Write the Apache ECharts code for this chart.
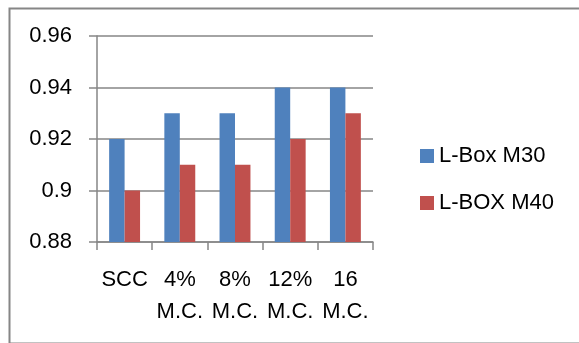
<!DOCTYPE html>
<html>
<head>
<meta charset="utf-8">
<script src="https://cdn.jsdelivr.net/npm/echarts@6/dist/echarts.min.js"></script>
<style>
  html, body { margin: 0; padding: 0; background: #fff; }
  #chart { width: 579px; height: 343px; }
</style>
</head>
<body>
<div id="chart"></div>
<script>
// Category labels (two-line) and values for each series
const categories = ['SCC\n', '4%\nM.C.', '8%\nM.C.', '12%\nM.C.', '16\nM.C.'];
const seriesNames = ['L-Box M30', 'L-BOX M40'];
const lboxM30 = [0.92, 0.93, 0.93, 0.94, 0.94];
const lboxM40 = [0.90, 0.91, 0.91, 0.92, 0.93];

const FONT = 'Liberation Sans';
const GRAY = '#868686';

const chart = echarts.init(document.getElementById('chart'), null, { renderer: 'canvas' });

chart.setOption({
  animation: false,
  backgroundColor: '#ffffff',
  textStyle: { fontFamily: FONT, color: '#000' },
  graphic: [{
    type: 'rect',
    left: 7, top: 6,
    shape: { width: 600, height: 335 },
    style: { fill: 'none', stroke: GRAY, lineWidth: 2 },
    silent: true
  }],
  grid: { left: 97, top: 36, right: 206, bottom: 101, containLabel: false },
  legend: {
    orient: 'vertical',
    left: 415,
    top: 140,
    itemWidth: 14,
    itemHeight: 14,
    itemGap: 25,
    icon: 'rect',
    data: seriesNames,
    textStyle: { fontFamily: FONT, fontSize: 22, color: '#000', lineHeight: 22 }
  },
  xAxis: {
    type: 'category',
    data: categories,
    axisLine: { lineStyle: { color: GRAY, width: 1.5 } },
    axisTick: { show: true, length: 8, lineStyle: { color: GRAY, width: 1.5 } },
    axisLabel: {
      interval: 0,
      fontFamily: FONT,
      fontSize: 22,
      lineHeight: 32,
      color: '#000',
      margin: 22
    },
    splitLine: { show: false }
  },
  yAxis: {
    type: 'value',
    min: 0.88,
    max: 0.96,
    interval: 0.02,
    axisLine: { show: true, lineStyle: { color: GRAY, width: 1.5 } },
    axisTick: { show: true, length: 8, lineStyle: { color: GRAY, width: 1.5 } },
    axisLabel: {
      fontFamily: FONT,
      fontSize: 22,
      color: '#000',
      margin: 25,
      formatter: v => String(+v.toFixed(2))
    },
    splitLine: { show: true, lineStyle: { color: GRAY, width: 1.5 } }
  },
  series: [
    {
      name: seriesNames[0],
      type: 'bar',
      data: lboxM30,
      barGap: '0%',
      barCategoryGap: '44%',
      itemStyle: { color: '#4F81BD' }
    },
    {
      name: seriesNames[1],
      type: 'bar',
      data: lboxM40,
      barGap: '0%',
      barCategoryGap: '44%',
      itemStyle: { color: '#C0504D' }
    }
  ]
});
</script>
</body>
</html>
